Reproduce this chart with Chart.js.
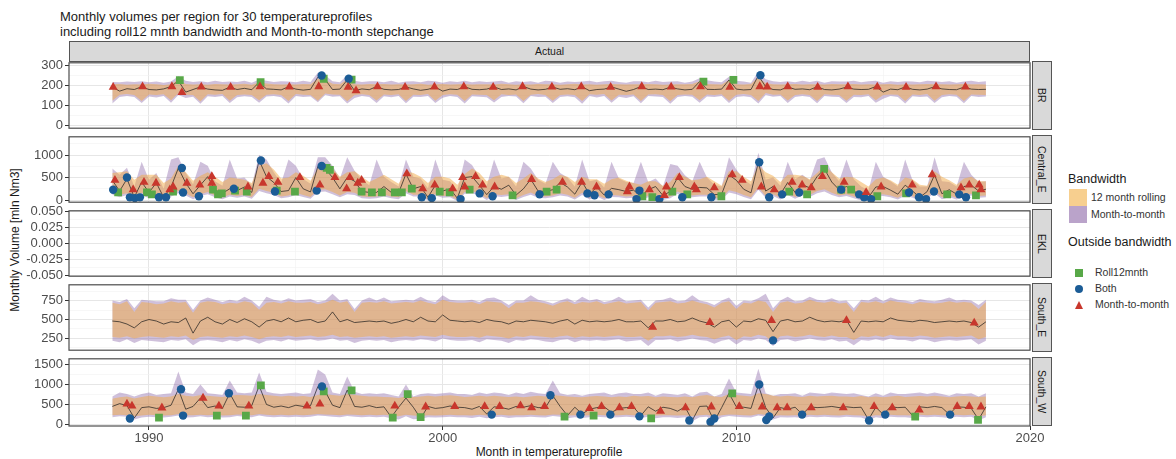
<!DOCTYPE html>
<html>
<head>
<meta charset="utf-8">
<script src="https://cdn.jsdelivr.net/npm/chart.js@4.4.1/dist/chart.umd.min.js"></script>
<style>
body { margin: 0; background: #fff; font-family: "Liberation Sans", Arial, sans-serif; }
#wrap { position: relative; width: 1176px; height: 459px; overflow: hidden; background: #fff; }
#wrap canvas { position: absolute; left: 0; }
.title { position: absolute; left: 60px; top: 9px; font-size: 13px; line-height: 15px; color: #1a1a1a; white-space: nowrap; }
.strip-top { position: absolute; left: 69px; top: 41px; width: 961px; height: 21px; box-sizing: border-box;
  background: #d9d9d9; border: 1px solid #555; font-size: 10.5px; line-height: 19px; text-align: center; color: #1a1a1a; }
.strip-r { position: absolute; left: 1032px; width: 20px; height: 69px; box-sizing: border-box; background: #d9d9d9;
  border: 1px solid #555; writing-mode: vertical-rl; text-align: center; font-size: 10.5px; line-height: 18px; color: #1a1a1a; }
.ylab { position: absolute; left: 15px; top: 240px; transform: translate(-50%, -50%) rotate(-90deg); font-size: 12px; color: #1a1a1a; white-space: nowrap; }
.xlab { position: absolute; left: 549px; top: 452px; transform: translate(-50%, -50%); font-size: 12px; color: #1a1a1a; white-space: nowrap; }
.lg-title { position: absolute; left: 1068px; font-size: 12.5px; color: #1a1a1a; white-space: nowrap; }
.lg-lab { position: absolute; font-size: 10.5px; color: #333; white-space: nowrap; }
.sw { position: absolute; left: 1069px; width: 18px; height: 17px; }
</style>
</head>
<body>
<div id="wrap">
  <div class="title">Monthly volumes per region for 30 temperatureprofiles<br>including roll12 mnth bandwidth and Month-to-month stepchange</div>
  <div class="strip-top">Actual</div>
  <div class="ylab">Monthly Volume [mln Nm3]</div>
  <div class="xlab">Month in temperatureprofile</div>

  <div class="lg-title" style="top:172px">Bandwidth</div>
  <div class="sw" style="top:189px;background:#f7cf8f"></div>
  <div class="sw" style="top:206px;background:#baa3ca"></div>
  <div class="lg-lab" style="left:1091px;top:191px">12 month rolling</div>
  <div class="lg-lab" style="left:1091px;top:208px">Month-to-month</div>

  <div class="lg-title" style="top:235px">Outside bandwidth</div>
  <div style="position:absolute;left:1075px;top:269px;width:8px;height:8px;background:#58a848"></div>
  <div style="position:absolute;left:1075px;top:285px;width:8px;height:8px;border-radius:50%;background:#1b5c96"></div>
  <div style="position:absolute;left:1075px;top:301px;width:0;height:0;border-left:4.5px solid transparent;border-right:4.5px solid transparent;border-bottom:8px solid #c8372d"></div>
  <div class="lg-lab" style="left:1095px;top:266px">Roll12mnth</div>
  <div class="lg-lab" style="left:1095px;top:282px">Both</div>
  <div class="lg-lab" style="left:1095px;top:298px">Month-to-month</div>
</div>

<script>
// quarterly time steps, Oct 1988 .. Jul 2018
const quarters = [];
for (let i = 0; i < 120; i++) quarters.push(1988.75 + i * 0.25);

const xTicks = [1990, 1995, 2000, 2005, 2010, 2015, 2020];

// ---- BR ----
const brLine = [
  190,170,182,178, 192,178,176,181, 193,222,165,178, 191,180,176,174, 190,178,184,177,
  214,181,179,176, 192,180,175,179, 240,228,178,180, 226,172,181,177, 193,179,176,178,
  191,181,174,179, 190,170,180,178, 192,179,177,180, 191,178,181,176, 193,180,176,179,
  190,179,182,177, 192,172,178,180, 191,180,169,178, 193,178,180,177, 190,181,176,179,
  218,179,178,180, 226,180,176,178, 248,192,178,176, 191,179,181,177, 192,178,176,180,
  190,180,178,179, 193,165,180,177, 191,179,176,180, 192,181,178,177, 190,180,178,179
];
const brHi12 = [
  204,206,202,205, 203,207,204,201, 205,228,206,203, 204,202,206,205, 203,205,207,202,
  215,208,204,203, 205,203,206,204, 232,226,207,204, 228,205,203,206, 204,206,203,205,
  203,205,207,202, 204,206,203,205, 206,203,205,204, 203,207,204,202, 205,203,206,204,
  204,202,205,207, 203,205,202,204, 206,204,203,205, 204,206,205,202, 203,205,204,206,
  220,206,204,203, 226,205,203,206, 240,210,205,203, 204,206,203,205, 205,203,206,204,
  204,206,203,205, 203,204,206,202, 205,203,204,206, 204,205,203,204, 206,204,205,203
];
const brLo12 = [
  122,152,155,150, 120,153,151,154, 124,160,152,150, 118,154,152,155, 122,151,153,150,
  124,152,154,151, 120,155,152,150, 122,158,153,152, 119,151,154,150, 123,153,150,154,
  121,152,151,155, 122,150,154,152, 120,153,152,150, 124,154,151,153, 121,152,155,151,
  122,151,153,150, 120,154,152,155, 123,152,150,153, 121,153,154,151, 119,151,153,152,
  124,153,151,154, 122,152,155,150, 120,160,152,153, 123,151,154,150, 121,154,152,151,
  122,152,150,154, 124,150,153,152, 120,153,151,155, 122,151,154,152, 121,153,152,151
];
const brHiM = [
  216,214,218,216, 220,214,218,212, 218,245,222,216, 220,214,222,216, 218,216,222,212,
  228,222,216,220, 218,214,222,216, 262,250,220,214, 250,222,216,220, 220,214,222,212,
  218,220,214,222, 220,212,220,216, 222,214,220,216, 218,222,212,220, 216,220,212,222,
  220,212,218,216, 218,222,214,220, 222,216,212,220, 220,214,222,216, 218,220,212,218,
  234,224,218,214, 242,222,218,212, 268,230,220,216, 220,214,222,216, 222,212,220,218,
  218,222,214,220, 222,212,220,216, 220,218,214,222, 220,216,220,212, 218,222,216,220
];
const brLoM = [
  108,140,146,141, 110,143,138,145, 112,150,136,142, 106,144,141,146, 110,139,144,140,
  112,143,145,139, 108,146,141,143, 114,150,142,144, 108,136,145,140, 111,144,139,146,
  109,142,140,145, 110,137,146,141, 108,144,142,139, 113,141,145,143, 109,146,140,142,
  110,140,144,139, 107,145,138,146, 112,142,135,144, 109,146,143,140, 106,141,145,142,
  112,143,140,146, 110,141,144,139, 108,150,142,145, 111,140,146,141, 109,145,142,140,
  110,141,139,146, 112,132,145,141, 108,144,140,143, 110,139,146,142, 109,145,141,143
];
const brRoll = [[1991.05,225],[1993.8,215],[1995.95,232],[1996.9,228],[2008.88,218],[2009.9,226]];
const brBoth = [[1995.88,248],[1996.8,232],[2010.82,250]];
const brStep = [
  [1988.78,190],[1989.78,192],[1990.78,193],[1991.12,163],[1991.78,191],[1992.78,190],[1993.78,192],
  [1994.78,191],[1995.78,193],[1996.78,190],[1997.05,172],[1997.78,192],[1998.72,190],[1999.72,191],
  [2000.72,192],[2001.72,190],[2002.72,193],[2003.72,191],[2004.72,192],[2005.72,190],[2006.78,193],
  [2007.78,191],[2008.78,192],[2009.78,190],[2010.8,193],[2011.05,191],[2011.75,192],[2012.77,190],
  [2013.8,192],[2014.8,191],[2015.78,190],[2016.8,192],[2017.8,191]
];

// ---- Central_E ----
const ceLine = [
  440,200,470,60, 400,170,380,60, 290,710,380,140, 330,520,220,150, 250,210,290,170,
  880,520,390,190, 210,500,250,180, 750,700,500,250, 500,420,190,170, 170,300,170,160,
  580,250,300,60, 330,200,250,40, 500,520,330,120, 300,240,330,110, 250,460,200,190,
  230,390,290,130, 400,130,290,110, 260,230,190,220, 80,230,300,100, 190,500,300,240,
  280,270,120,130, 560,440,240,160, 840,200,300,130, 390,170,340,270, 520,690,400,230,
  300,200,100,60, 290,300,220,130, 330,200,60,190, 560,140,230,130, 300,330,200,240
];
const ceHi12 = [
  600,620,640,450, 560,560,560,380, 480,760,620,430, 540,620,520,400, 500,480,450,380,
  760,820,680,480, 500,620,540,430, 700,820,700,520, 620,640,520,400, 480,560,460,360,
  640,600,520,380, 520,520,480,340, 580,700,600,420, 520,560,520,380, 480,600,480,400,
  460,560,520,400, 520,460,460,360, 460,500,430,380, 340,420,420,320, 400,600,520,440,
  460,520,420,320, 640,640,520,420, 780,620,540,400, 560,560,540,460, 600,760,620,480,
  520,500,400,300, 460,500,440,340, 500,460,340,320, 640,520,440,340, 480,520,420,420
];
const ceLo12 = [
  170,120,150,20, 160,90,120,10, 130,200,150,60, 130,180,100,60, 120,90,120,70,
  250,200,160,80, 100,160,110,70, 230,240,180,100, 180,160,80,70, 80,120,80,60,
  200,120,120,10, 140,90,100,0, 180,200,140,40, 130,110,130,40, 110,170,90,80,
  100,150,120,50, 160,50,120,40, 110,100,80,90, 20,100,120,40, 80,190,130,100,
  120,120,40,50, 220,180,110,60, 280,90,130,50, 160,70,140,110, 200,240,160,100,
  130,80,30,10, 120,130,100,50, 140,90,10,80, 200,60,100,50, 120,140,90,100
];
const ceHiM = [
  700,560,720,300, 850,450,600,250, 900,950,600,350, 850,760,420,320, 900,480,500,330,
  1000,900,620,380, 900,760,470,360, 950,950,760,480, 950,650,450,330, 900,520,400,300,
  900,520,480,260, 900,450,420,220, 900,780,520,320, 900,480,520,300, 850,700,450,360,
  850,600,500,300, 900,420,450,280, 850,480,400,380, 850,400,480,300, 800,760,550,420,
  850,500,340,300, 950,680,460,340, 1050,450,500,320, 850,460,560,440, 900,950,620,420,
  900,460,300,220, 850,520,420,300, 900,440,300,300, 950,420,400,300, 850,560,400,420
];
const ceLoM = [
  120,60,110,0, 110,40,80,-10, 80,150,100,20, 90,130,60,20, 80,50,80,30,
  200,150,110,40, 60,110,70,30, 180,190,130,60, 130,110,40,30, 40,80,40,20,
  150,80,80,-10, 100,50,60,-20, 140,150,100,0, 90,70,90,0, 70,120,50,40,
  60,100,80,10, 110,10,80,0, 70,60,40,50, -10,60,80,0, 40,140,90,60,
  80,80,0,10, 170,130,70,20, 230,50,90,10, 110,30,100,70, 150,190,110,60,
  90,40,-10,-20, 80,90,60,10, 100,50,-20,40, 150,20,60,10, 80,100,50,60
];
const ceRoll = [
  [1988.95,170],[1989.93,168],[1990.1,126],[1990.82,189],[1992.18,231],[1992.35,126],[1992.48,147],
  [1992.93,210],[1993.33,189],[1994.35,210],[1994.97,189],[1996.05,713],[1996.16,671],[1997.24,189],
  [1997.59,168],[1997.93,168],[1998.37,168],[1998.61,168],[1998.95,252],[1999.9,189],[2000.24,168],
  [2000.92,231],[2002.38,105],[2003.54,189],[2003.88,231],[2006.8,84],[2007.14,63],[2007.82,189],
  [2008.33,126],[2009.49,84],[2011.8,189],[2012.41,126],[2012.99,692],[2013.57,231],[2013.91,231],
  [2014.8,84],[2015.78,147],[2017.18,126],[2018.16,105]
];
const ceBoth = [
  [1988.78,230],[1989.25,500],[1989.35,60],[1989.52,42],[1989.69,60],[1990.34,63],[1990.58,63],
  [1991.12,713],[1991.16,168],[1991.7,84],[1992.89,252],[1993.81,880],[1994.29,189],[1995.71,210],
  [1995.88,755],[1999.29,63],[1999.63,42],[2000.61,21],[2001.26,147],[2001.7,84],[2003.3,126],
  [2004.93,147],[2005.17,105],[2005.65,126],[2006.6,21],[2006.7,210],[2007.38,21],[2008.16,63],
  [2009.15,63],[2010.78,839],[2011.12,63],[2011.56,126],[2012.14,168],[2013.57,231],[2014.18,126],
  [2014.35,63],[2014.59,21],[2015.88,168],[2016.22,63],[2016.46,21],[2016.73,189],[2017.59,126],
  [2017.82,63]
];
const ceStep = [
  [1988.84,440],[1989.46,231],[1989.83,398],[1990.24,377],[1990.71,231],[1990.82,294],[1991.29,377],
  [1991.73,335],[1992.14,524],[1992.14,377],[1993.37,294],[1993.88,377],[1994.08,524],[1994.39,398],
  [1995.14,503],[1995.82,335],[1996.33,503],[1996.73,252],[1996.84,503],[1997.11,377],[1997.24,440],
  [1998.78,587],[1999.32,252],[1999.73,335],[2000.34,252],[2000.68,503],[2000.75,294],[2001.12,524],
  [2001.36,335],[2001.77,294],[2003.03,461],[2004.08,398],[2004.73,398],[2005.24,294],[2006.29,189],
  [2006.36,294],[2007.04,231],[2007.55,105],[2007.62,294],[2008.06,503],[2008.57,294],[2008.64,231],
  [2009.25,273],[2009.86,566],[2010.2,440],[2010.85,294],[2011.29,231],[2011.9,398],[2012.24,335],
  [2012.55,273],[2012.93,524],[2013.67,398],[2014.42,168],[2014.93,294],[2015.99,335],[2016.67,566],
  [2017.65,273],[2017.93,335],[2018.27,335],[2018.33,231]
];

// ---- South_E ----
const seLine = [
  480,470,440,390, 470,500,480,440, 470,460,520,320, 480,530,470,440, 500,460,510,470,
  400,480,500,470, 520,470,490,500, 460,480,600,470, 500,460,470,480, 470,480,450,470,
  500,470,530,480, 470,560,490,480, 470,480,460,500, 480,470,440,480, 470,490,480,470,
  450,480,500,440, 490,470,480,470, 480,500,470,470, 480,390,480,480, 500,470,480,520,
  480,455,400,470, 490,400,480,470, 510,490,340,480, 500,470,480,530, 490,470,480,470,
  490,330,480,470, 480,470,520,490, 480,470,490,480, 460,470,480,470, 480,460,400,470
];
const seHi12 = [
  720,700,740,600, 730,720,700,710, 740,720,730,590, 720,740,730,700, 720,710,740,720,
  630,720,730,710, 740,720,720,730, 700,720,760,720, 740,600,720,730, 720,740,710,720,
  730,720,750,720, 700,760,730,720, 720,730,700,740, 730,720,650,720, 720,740,730,710,
  680,720,740,700, 730,720,740,700, 720,740,710,720, 730,620,720,730, 740,710,720,750,
  720,700,660,720, 740,640,720,710, 750,730,600,720, 740,710,720,760, 730,720,740,710,
  720,600,730,720, 740,710,750,730, 720,700,730,720, 710,720,740,720, 730,720,640,730
];
const seLo12 = [
  270,260,280,250, 270,280,270,260, 280,270,290,230, 270,280,270,260, 280,270,290,270,
  240,270,280,270, 290,270,280,290, 270,280,300,270, 280,260,270,280, 270,280,260,270,
  280,270,290,280, 270,300,280,270, 270,280,260,290, 280,270,250,280, 270,290,280,270,
  260,280,290,260, 280,270,280,270, 280,290,270,270, 280,220,280,280, 290,270,280,300,
  280,270,240,270, 290,230,280,270, 300,280,200,280, 290,270,280,300, 280,270,290,270,
  270,230,280,270, 290,270,300,280, 280,270,290,280, 260,270,280,270, 280,290,240,270
];
const seHiM = [
  750,730,770,650, 760,750,740,740, 780,760,760,630, 750,790,760,730, 760,740,800,750,
  670,800,760,740, 780,750,760,770, 730,750,840,750, 770,640,750,790, 750,790,740,750,
  760,750,800,750, 730,820,760,750, 750,760,730,780, 790,750,690,750, 750,820,760,740,
  710,750,780,730, 800,750,770,730, 750,800,740,750, 760,660,750,760, 790,740,750,820,
  750,730,690,750, 790,680,750,740, 780,840,650,750, 800,740,750,800, 760,750,780,740,
  750,650,760,750, 800,740,790,760, 750,730,770,750, 740,760,790,750, 760,750,690,760
];
const seLoM = [
  220,200,240,190, 230,220,210,200, 230,220,240,160, 220,230,220,200, 230,210,240,220,
  180,220,230,210, 240,220,230,240, 220,230,250,220, 230,190,220,230, 220,230,200,220,
  230,220,240,230, 210,250,230,220, 220,230,200,240, 230,220,190,230, 220,240,230,210,
  200,230,240,200, 230,220,230,220, 230,240,210,220, 230,150,230,230, 240,210,230,250,
  230,220,180,220, 240,170,230,220, 250,230,150,230, 240,210,230,250, 230,220,240,210,
  220,160,230,220, 240,220,250,230, 230,210,240,230, 200,220,230,220, 230,240,170,220
];
const seRoll = [];
const seBoth = [[2011.25,225]];
const seStep = [[2007.15,400],[2009.1,462],[2011.2,488],[2013.75,488],[2018.1,455]];

// ---- South_W ----
const swLine = [
  450,520,470,160, 420,440,400,420, 480,880,380,450, 660,420,460,400, 780,440,430,470,
  970,500,430,460, 420,480,450,470, 950,830,480,420, 860,450,430,470, 420,440,180,430,
  660,430,150,450, 400,420,460,430, 420,380,450,260, 440,420,380,450, 430,470,420,420,
  720,450,220,430, 260,380,420,440, 300,400,420,430, 220,440,330,430, 400,330,440,100,
  450,460,80,420, 780,440,430,400, 980,420,160,420, 380,430,250,440, 420,430,450,420,
  440,420,430,120, 430,250,440,420, 430,220,440,420, 450,420,250,440, 430,400,120,440
];
const swHi12 = [
  640,680,700,650, 690,720,700,680, 700,760,720,700, 740,720,700,690, 720,740,730,720,
  760,740,720,700, 720,700,710,690, 740,760,740,720, 760,740,720,700, 700,690,680,660,
  700,690,700,720, 700,720,730,710, 690,700,720,700, 720,700,690,700, 680,700,720,700,
  740,720,700,690, 680,700,710,700, 680,700,690,720, 700,710,680,700, 690,680,700,680,
  720,740,700,690, 760,740,720,700, 780,760,720,700, 720,700,690,720, 700,710,720,700,
  700,690,710,680, 700,680,700,720, 690,700,710,700, 720,700,680,700, 710,700,690,700
];
const swLo12 = [
  230,240,230,200, 220,240,230,220, 230,260,230,230, 240,230,240,220, 230,250,240,230,
  260,240,230,240, 230,240,230,240, 260,250,240,230, 250,240,230,240, 230,240,220,200,
  240,220,210,230, 220,230,240,230, 230,220,240,220, 230,240,220,230, 230,240,230,220,
  250,240,220,230, 220,230,240,230, 220,230,240,230, 220,240,220,230, 230,220,230,200,
  230,240,190,230, 250,240,230,220, 260,240,210,230, 220,230,220,240, 230,240,230,220,
  240,230,220,200, 230,220,240,230, 230,220,240,230, 240,230,220,240, 230,240,200,230
];
const swHiM = [
  700,800,760,700, 760,800,740,760, 780,1330,800,760, 1000,780,760,740, 1100,800,780,800,
  1300,820,780,760, 780,800,760,780, 1380,1250,800,760, 1200,820,760,780, 760,780,740,700,
  1000,700,760,780, 760,780,800,760, 760,740,800,760, 800,780,740,800, 760,820,780,760,
  1100,780,740,760, 720,760,780,800, 740,780,800,760, 760,800,720,780, 760,740,780,700,
  800,820,700,760, 1150,800,780,760, 1400,780,720,760, 760,780,720,800, 780,760,800,780,
  760,780,740,700, 780,720,800,760, 760,780,800,760, 800,760,720,780, 760,780,700,780
];
const swLoM = [
  180,200,190,120, 170,190,180,170, 190,220,170,180, 200,180,190,170, 180,210,190,180,
  220,190,180,190, 180,190,180,190, 220,210,190,180, 210,190,180,190, 180,190,150,120,
  200,130,140,180, 170,180,190,180, 180,160,190,150, 180,190,160,180, 180,190,180,170,
  210,190,150,180, 160,180,190,180, 170,180,190,180, 160,190,150,180, 180,160,180,80,
  180,190,60,180, 210,190,180,170, 220,190,120,180, 170,180,160,190, 180,190,180,170,
  190,180,170,100, 180,150,190,180, 180,160,190,180, 190,180,160,190, 180,190,100,180
];
const swRoll = [
  [1990.34,171],[1992.31,220],[1993.3,220],[1993.81,978],[1995.95,831],[1996.9,856],[1998.3,171],
  [1998.81,760],[1999.25,180],[2004.15,196],[2005.14,220],[2007.1,150],[2009.86,780],[2016.09,196],
  [2018.23,110]
];
const swBoth = [
  [1989.35,147],[1991.09,880],[1991.16,220],[1992.72,782],[1995.89,953],[2001.67,244],[2003.67,730],
  [2004.69,244],[2005.71,244],[2006.7,200],[2008.4,98],[2009.12,60],[2009.25,147],[2010.78,1000],
  [2011.02,110],[2011.12,196],[2012.24,244],[2014.52,98],[2015.07,244],[2017.28,244]
];
const swStep = [
  [1989.25,513],[1989.42,465],[1990.44,416],[1991.84,660],[1992.38,465],[1993.4,465],[1995.38,465],
  [1995.82,513],[1998.37,465],[1999.42,440],[2000.41,450],[2001.43,450],[2001.94,450],[2002.65,470],
  [2003.03,420],[2003.47,450],[2005.0,400],[2005.41,450],[2006.02,420],[2006.43,450],[2007.42,330],
  [2008.27,420],[2009.15,440],[2010.1,450],[2010.88,440],[2011.39,420],[2011.73,420],[2012.55,420],
  [2013.64,420],[2014.69,450],[2015.31,420],[2016.23,360],[2017.52,450],[2017.93,450],[2018.33,440]
];

const C12 = 'rgba(242,170,70,0.5)';
const CM = 'rgba(130,90,160,0.38)';
const GREEN = '#58a848', BLUE = '#1b5c96', RED = '#c8372d';

const panels = [
  { name: 'BR', top: 61, min: -16, max: 312, major: [0, 100, 200, 300], minor: [50, 150, 250],
    line: brLine, hi12: brHi12, lo12: brLo12, hiM: brHiM, loM: brLoM, roll: brRoll, both: brBoth, step: brStep },
  { name: 'Central_E', top: 135, min: -48, max: 1405, major: [0, 500, 1000], minor: [250, 750, 1250],
    line: ceLine, hi12: ceHi12, lo12: ceLo12, hiM: ceHiM, loM: ceLoM, roll: ceRoll, both: ceBoth, step: ceStep },
  { name: 'EKL', top: 209, min: -0.0508, max: 0.0508, major: [-0.05, -0.025, 0, 0.025, 0.05], minor: [-0.0375, -0.0125, 0.0125, 0.0375],
    dec: 3 },
  { name: 'South_E', top: 283, min: 95, max: 958, major: [250, 500, 750], minor: [125, 375, 625, 875],
    line: seLine, hi12: seHi12, lo12: seLo12, hiM: seHiM, loM: seLoM, roll: seRoll, both: seBoth, step: seStep },
  { name: 'South_W', top: 357, min: -42, max: 1647, major: [0, 500, 1000, 1500], minor: [250, 750, 1250],
    line: swLine, hi12: swHi12, lo12: swLo12, hiM: swHiM, loM: swLoM, roll: swRoll, both: swBoth, step: swStep }
];

function pts(arr) { return quarters.map((t, i) => ({ x: t, y: arr[i] })); }
function pairs(arr) { return arr.map(p => ({ x: p[0], y: p[1] })); }
function isMajor(list, v) { return list.some(m => Math.abs(m - v) < 1e-9); }

const panelBorder = {
  id: 'panelBorder',
  afterDraw(chart) {
    const a = chart.chartArea, c = chart.ctx;
    c.save();
    c.strokeStyle = '#4d4d4d';
    c.lineWidth = 1.2;
    c.strokeRect(a.left, a.top, a.right - a.left, a.bottom - a.top);
    c.restore();
  }
};

const wrap = document.getElementById('wrap');

panels.forEach((p, idx) => {
  const isLast = idx === panels.length - 1;
  const canvas = document.createElement('canvas');
  canvas.width = 1060;
  canvas.height = isLast ? 105 : 85;
  canvas.style.top = (p.top - 8) + 'px';
  wrap.appendChild(canvas);

  const strip = document.createElement('div');
  strip.className = 'strip-r';
  strip.style.top = p.top + 'px';
  strip.textContent = p.name;
  wrap.appendChild(strip);

  const datasets = [];
  if (p.line) {
    datasets.push(
      { data: pairs(p.step), showLine: false, pointStyle: 'triangle', pointRadius: 5.2,
        backgroundColor: RED, borderColor: RED, borderWidth: 0, order: 0 },
      { data: pairs(p.both), showLine: false, pointStyle: 'circle', pointRadius: 4.2,
        backgroundColor: BLUE, borderColor: BLUE, borderWidth: 0, order: 1 },
      { data: pairs(p.roll), showLine: false, pointStyle: 'rect', pointRadius: 5.5,
        backgroundColor: GREEN, borderColor: GREEN, borderWidth: 0, order: 2 },
      { data: pts(p.line), borderColor: '#1a1a1a', borderWidth: 0.7, pointRadius: 0, fill: false, order: 3 },
      { data: pts(p.hi12), fill: '+1', backgroundColor: C12, borderColor: 'transparent', borderWidth: 0, pointRadius: 0, order: 4 },
      { data: pts(p.lo12), fill: false, borderColor: 'transparent', borderWidth: 0, pointRadius: 0, order: 4 },
      { data: pts(p.hiM), fill: '+1', backgroundColor: CM, borderColor: 'transparent', borderWidth: 0, pointRadius: 0, order: 5 },
      { data: pts(p.loM), fill: false, borderColor: 'transparent', borderWidth: 0, pointRadius: 0, order: 5 }
    );
  }

  new Chart(canvas.getContext('2d'), {
    type: 'line',
    data: { datasets: datasets },
    plugins: [panelBorder],
    options: {
      responsive: false,
      animation: false,
      events: [],
      layout: { padding: { top: 8, bottom: 8, left: 0, right: 30 } },
      plugins: { legend: { display: false }, tooltip: { enabled: false } },
      scales: {
        x: {
          type: 'linear',
          min: 1987.276,
          max: 2020.0,
          afterBuildTicks: s => { s.ticks = xTicks.map(v => ({ value: v })); },
          afterFit: s => { s.height = isLast ? 20 : 0; },
          border: { display: false },
          grid: {
            drawTicks: isLast,
            tickLength: 4,
            color: c => (c.tick && c.tick.value % 10 === 0) ? '#e6e6e6' : '#f2f2f2',
            lineWidth: c => (c.tick && c.tick.value % 10 === 0) ? 1 : 0.6,
            tickColor: c => (c.tick && c.tick.value % 10 === 0) ? '#333' : 'transparent'
          },
          ticks: {
            display: isLast,
            autoSkip: false,
            maxRotation: 0,
            padding: 1,
            color: '#4d4d4d',
            font: { size: 13, family: '"Liberation Sans", Arial, sans-serif' },
            callback: v => (v % 10 === 0 ? String(v) : '')
          }
        },
        y: {
          min: p.min,
          max: p.max,
          afterBuildTicks: s => {
            s.ticks = p.major.concat(p.minor).sort((a, b) => a - b).map(v => ({ value: v }));
          },
          afterFit: s => { s.width = 69; },
          border: { display: false },
          grid: {
            drawTicks: true,
            tickLength: 4,
            color: c => (c.tick && isMajor(p.major, c.tick.value)) ? '#e6e6e6' : '#f2f2f2',
            lineWidth: c => (c.tick && isMajor(p.major, c.tick.value)) ? 1 : 0.6,
            tickColor: c => (c.tick && isMajor(p.major, c.tick.value)) ? '#333' : 'transparent'
          },
          ticks: {
            autoSkip: false,
            padding: 2,
            color: '#4d4d4d',
            font: { size: 13, family: '"Liberation Sans", Arial, sans-serif' },
            callback: v => isMajor(p.major, v) ? (p.dec ? v.toFixed(p.dec) : String(v)) : ''
          }
        }
      }
    }
  });
});
</script>
</body>
</html>
